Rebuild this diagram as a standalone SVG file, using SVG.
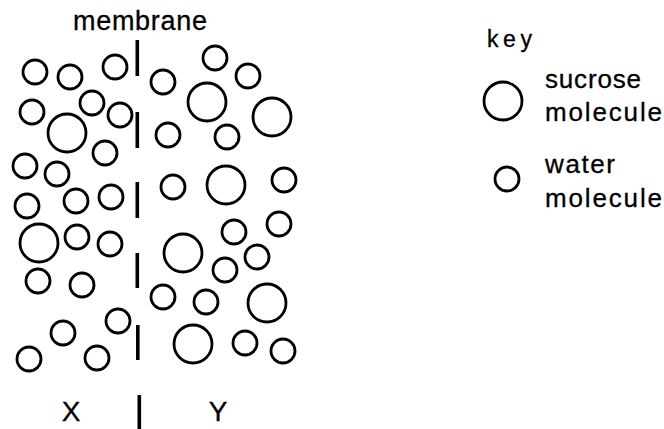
<svg xmlns="http://www.w3.org/2000/svg" width="664" height="429" viewBox="0 0 664 429">
<style>
.m{fill:none;stroke:#000;stroke-width:2.8}
.t{font-family:"Liberation Sans",Arial,sans-serif;fill:#000;stroke:#000;stroke-width:0.3}
.bar{fill:#000}
</style>
<defs>
<circle id="s" r="12" class="m"/>
<circle id="b" r="19" class="m"/>
</defs>
<rect width="664" height="429" fill="#fff"/>
<g id="membrane">
<text class="t" x="73" y="30" font-size="27" textLength="134">membrane</text>
<rect class="bar" x="135.5" y="40" width="3.6" height="36"/>
<rect class="bar" x="135.5" y="112" width="3.6" height="36"/>
<rect class="bar" x="135.5" y="182" width="3.6" height="36"/>
<rect class="bar" x="135.5" y="253" width="3.6" height="35"/>
<rect class="bar" x="136" y="325" width="3.6" height="35"/>
<rect class="bar" x="137.5" y="395" width="3.6" height="34"/>
</g>
<g id="side-x">
<use href="#s" x="35" y="72"/>
<use href="#s" x="70" y="77"/>
<use href="#s" x="115" y="67"/>
<use href="#s" x="32" y="112"/>
<use href="#s" x="92" y="103"/>
<use href="#s" x="120" y="115"/>
<use href="#b" x="67" y="133"/>
<use href="#s" x="105" y="153"/>
<use href="#s" x="25" y="166"/>
<use href="#s" x="57" y="174"/>
<use href="#s" x="27" y="206"/>
<use href="#s" x="76" y="201"/>
<use href="#s" x="111" y="197"/>
<use href="#b" x="39" y="243"/>
<use href="#s" x="77" y="237"/>
<use href="#s" x="110" y="244"/>
<use href="#s" x="38" y="281"/>
<use href="#s" x="82" y="285"/>
<use href="#s" x="63" y="333"/>
<use href="#s" x="118" y="321"/>
<use href="#s" x="29" y="359"/>
<use href="#s" x="97" y="358"/>
<text class="t" x="71" y="421" font-size="28" text-anchor="middle">X</text>
</g>
<g id="side-y">
<use href="#s" x="163" y="82"/>
<use href="#s" x="215" y="58"/>
<use href="#s" x="248" y="76"/>
<use href="#b" x="207" y="102"/>
<use href="#b" x="272" y="117"/>
<use href="#s" x="168" y="135"/>
<use href="#s" x="227" y="137"/>
<use href="#s" x="173" y="187"/>
<use href="#b" x="226" y="185"/>
<use href="#s" x="284" y="180"/>
<use href="#s" x="234" y="232"/>
<use href="#s" x="279" y="224"/>
<use href="#b" x="183" y="253"/>
<use href="#s" x="257" y="257"/>
<use href="#s" x="225" y="270"/>
<use href="#s" x="163" y="297"/>
<use href="#s" x="206" y="302"/>
<use href="#b" x="267" y="303"/>
<use href="#b" x="193" y="344"/>
<use href="#s" x="245" y="343"/>
<use href="#s" x="283" y="351"/>
<text class="t" x="218" y="421" font-size="28" text-anchor="middle">Y</text>
</g>
<g id="key">
<text class="t" x="487" y="47" font-size="23" textLength="45">key</text>
<use href="#b" x="503" y="101"/>
<text class="t" x="545" y="88" font-size="26" textLength="96">sucrose</text>
<text class="t" x="545" y="121" font-size="26" textLength="117">molecule</text>
<use href="#s" x="507" y="179"/>
<text class="t" x="545" y="173" font-size="26" textLength="70">water</text>
<text class="t" x="545" y="207" font-size="26" textLength="117">molecule</text>
</g>
</svg>
